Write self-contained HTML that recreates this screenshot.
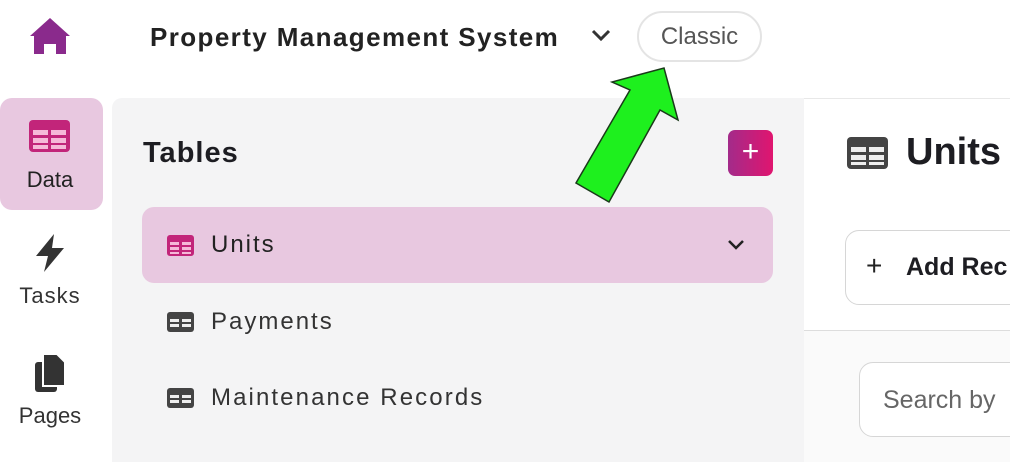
<!DOCTYPE html>
<html><head><style>
*{margin:0;padding:0;box-sizing:border-box}
body{width:1010px;height:462px;overflow:hidden;background:#fff;font-family:"Liberation Sans",sans-serif;position:relative;color:#1d1d22}
.a{position:absolute}
.t{white-space:nowrap}
</style></head><body>
<!-- home -->
<svg class="a" style="left:28px;top:16px" width="44" height="40" viewBox="0 0 44 40"><path d="M22 2 L42 20 L38 20 L38 38 L28 38 L28 28 L16 28 L16 38 L6 38 L6 20 L2 20 Z" fill="#8a2a8c"/></svg>
<div class="a t" style="left:150px;top:22px;font-size:26px;font-weight:bold;color:#222;letter-spacing:1.4px">Property Management System</div>
<svg class="a" style="left:590px;top:28px" width="22" height="16"><path d="M3 3 L11 11 L19 3" stroke="#333" stroke-width="3" fill="none"/></svg>
<div class="a t" style="left:637px;top:11px;width:125px;height:51px;border:2px solid #e4e4e4;border-radius:26px;font-size:24px;color:#555;text-align:center;line-height:47px">Classic</div>
<!-- sidebar -->
<div class="a" style="left:0;top:98px;width:103px;height:112px;background:#e8c8e0;border-radius:12px"></div>
<svg class="a" style="left:29px;top:120px" width="41" height="32"><rect x="0" y="0" width="41" height="32" rx="4" fill="#c2257a"/><g fill="#f5b8d8"><rect x="4" y="10" width="15" height="5"/><rect x="22" y="10" width="15" height="5"/><rect x="4" y="18" width="15" height="5"/><rect x="22" y="18" width="15" height="5"/><rect x="4" y="25" width="15" height="4"/><rect x="22" y="25" width="15" height="4"/></g></svg>
<div class="a t" style="left:0;width:100px;text-align:center;top:167px;font-size:22px;color:#222">Data</div>
<svg class="a" style="left:34px;top:234px" width="32" height="38"><path d="M20 0 L2 22 L14 22 L10 38 L30 14 L18 14 Z" fill="#333"/></svg>
<div class="a t" style="left:0;width:100px;text-align:center;top:283px;font-size:22px;color:#333;letter-spacing:1px">Tasks</div>
<svg class="a" style="left:33px;top:354px" width="34" height="40"><rect x="2" y="8" width="22" height="30" rx="3" fill="#333"/><path d="M10 0 L24 0 L32 8 L32 32 L10 32 Z" fill="#333" stroke="#fff" stroke-width="2"/></svg>
<div class="a t" style="left:0;width:100px;text-align:center;top:403px;font-size:22px;color:#333">Pages</div>
<!-- gray panel -->
<div class="a" style="left:112px;top:98px;width:692px;height:364px;background:#f4f4f5;border-top-left-radius:10px"></div>
<div class="a t" style="left:143px;top:137px;font-size:29px;font-weight:bold;color:#1d1d22;letter-spacing:1px">Tables</div>
<div class="a" style="left:728px;top:130px;width:45px;height:46px;border-radius:7px;background:linear-gradient(90deg,#a32b8a,#e0156f);color:#fff;font-size:30px;text-align:center;line-height:44px">+</div>
<div class="a" style="left:142px;top:207px;width:631px;height:76px;background:#e8c8e0;border-radius:12px"></div>
<svg class="a" style="left:167px;top:235px" width="27" height="21"><rect width="27" height="21" rx="3" fill="#c2257a"/><g fill="#f5b8d8"><rect x="3" y="7" width="9" height="3"/><rect x="15" y="7" width="9" height="3"/><rect x="3" y="12" width="9" height="3"/><rect x="15" y="12" width="9" height="3"/><rect x="3" y="17" width="9" height="2"/><rect x="15" y="17" width="9" height="2"/></g></svg>
<div class="a t" style="left:211px;top:231px;font-size:24px;color:#222;letter-spacing:2px">Units</div>
<svg class="a" style="left:726px;top:238px" width="20" height="14"><path d="M3 3 L10 10 L17 3" stroke="#222" stroke-width="2.5" fill="none"/></svg>
<svg class="a" style="left:167px;top:312px" width="27" height="20"><rect width="27" height="20" rx="3" fill="#444"/><g fill="#eee"><rect x="3" y="7" width="9" height="3"/><rect x="15" y="7" width="9" height="3"/><rect x="3" y="12" width="9" height="3"/><rect x="15" y="12" width="9" height="3"/></g></svg>
<div class="a t" style="left:211px;top:308px;font-size:24px;color:#333;letter-spacing:2px">Payments</div>
<svg class="a" style="left:167px;top:388px" width="27" height="20"><rect width="27" height="20" rx="3" fill="#444"/><g fill="#eee"><rect x="3" y="7" width="9" height="3"/><rect x="15" y="7" width="9" height="3"/><rect x="3" y="12" width="9" height="3"/><rect x="15" y="12" width="9" height="3"/></g></svg>
<div class="a t" style="left:211px;top:384px;font-size:24px;color:#333;letter-spacing:2.1px">Maintenance Records</div>
<!-- right -->
<div class="a" style="left:804px;top:98px;width:206px;height:1px;background:#e8e8e8"></div>
<div class="a" style="left:804px;top:330px;width:206px;height:132px;background:#fafafa;border-top:1px solid #ddd"></div>
<svg class="a" style="left:847px;top:137px" width="41" height="32"><rect width="41" height="32" rx="4" fill="#444"/><g fill="#eee"><rect x="4" y="10" width="15" height="5"/><rect x="22" y="10" width="15" height="5"/><rect x="4" y="18" width="15" height="5"/><rect x="22" y="18" width="15" height="5"/><rect x="4" y="25" width="15" height="3"/><rect x="22" y="25" width="15" height="3"/></g></svg>
<div class="a t" style="left:906px;top:131px;font-size:38px;font-weight:bold;color:#1d1d22">Units</div>
<div class="a" style="left:845px;top:230px;width:200px;height:75px;border:1.5px solid #d6d6d6;border-radius:14px;background:#fff"></div>
<div class="a t" style="left:866px;top:250px;font-size:28px;color:#222">+</div>
<div class="a t" style="left:906px;top:253px;font-size:25px;font-weight:bold;color:#1d1d22">Add Rec</div>
<div class="a" style="left:859px;top:362px;width:200px;height:75px;border:1.5px solid #d6d6d6;border-radius:14px;background:#fff"></div>
<div class="a t" style="left:883px;top:386px;font-size:25px;color:#666">Search by</div>
<!-- arrow -->
<svg class="a" style="left:0;top:0" width="1010" height="462"><polygon points="664,68 678,120 660,110 609,202 576,183 630,90 612,82" fill="#1ef01e" stroke="#1a3a1a" stroke-width="1.5" stroke-linejoin="miter"/></svg>
</body></html>
